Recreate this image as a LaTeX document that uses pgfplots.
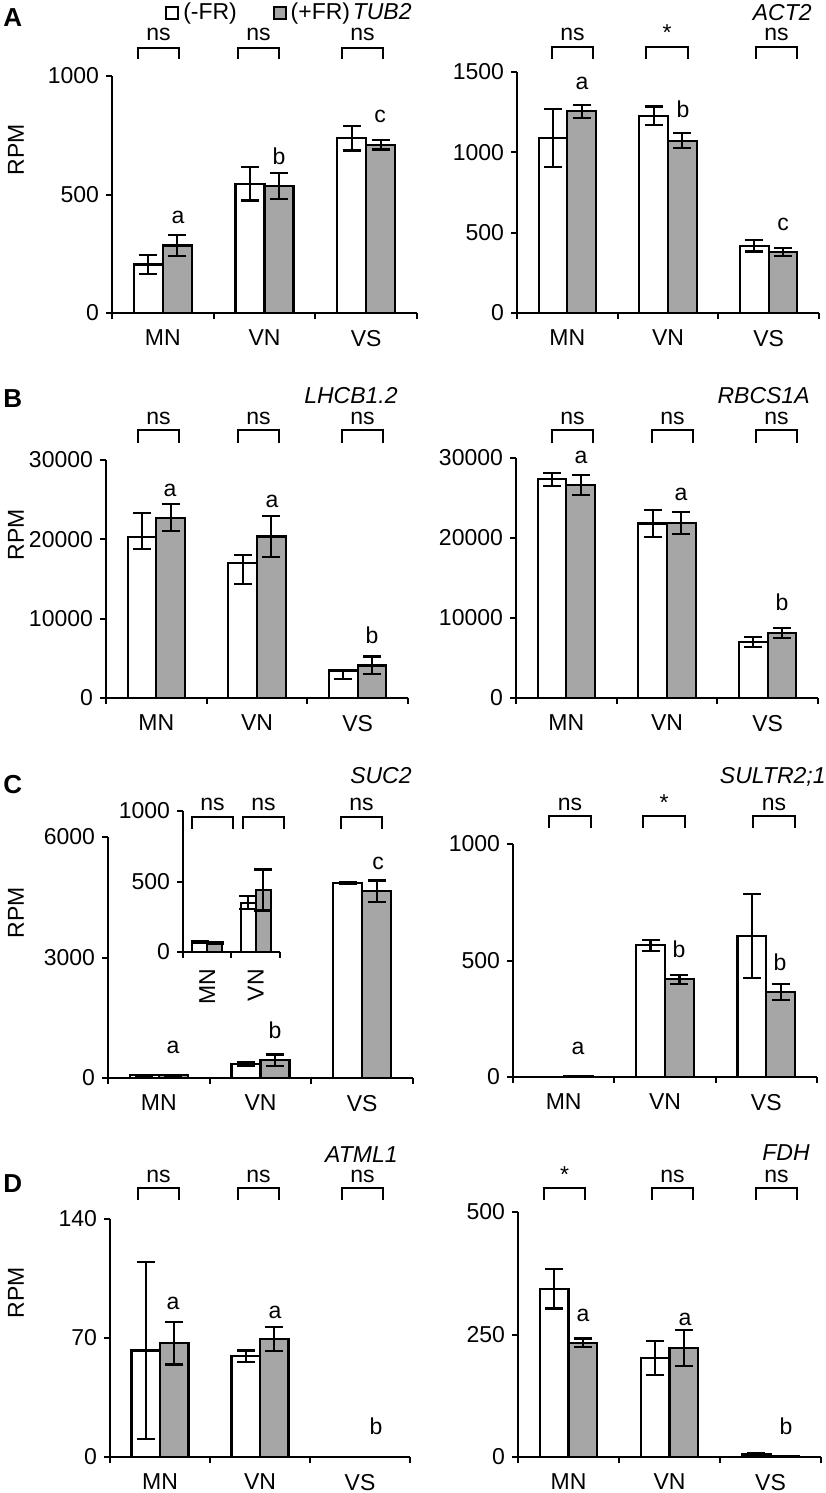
\documentclass[border=0pt]{standalone}
\usepackage{pgfplots}
\pgfplotsset{compat=1.18}
\usepackage{fontspec}
\setmainfont{Liberation Sans}
\definecolor{bargray}{RGB}{166,166,166}
\newcommand\f{\fontsize{11.5}{13}\selectfont}
\tikzset{
  wbar/.style={draw=black, fill=white, line width=1.1pt},
  gbar/.style={draw=black, fill=bargray, line width=1.1pt},
}
\pgfplotsset{
  panel/.style={
    ybar=0pt, bar width=0.285, scale only axis, anchor=south west,
    xmin=-0.5, xmax=2.5, ymin=0,
    enlargelimits=false, clip=false,
    axis x line*=bottom, axis y line*=left,
    xtick={-0.5,0.5,1.5,2.5}, xticklabels={},
    extra x ticks={0,1,2}, extra x tick labels={MN,VN,VS},
    extra x tick style={major tick length=0pt, xticklabel style={yshift=-5pt}},
    tick align=outside, major tick length=3pt,
    axis line style={line width=1pt, black},
    every tick/.style={line width=1pt, black},
    scaled y ticks=false,
    /pgf/number format/1000 sep={},
    /pgf/number format/assume math mode=true,
    ticklabel style={font=\f},
    error bars/y dir=both, error bars/y explicit,
    error bars/error bar style={line width=1.1pt, black},
    error bars/error mark options={rotate=90, line width=1.1pt, mark size=4.5pt, black},
  },
}
\newcommand\sig[6]{%
  \draw[line width=1.1pt] (#1,#4) -- (#1,#3) -- (#2,#3) -- (#2,#4);
  \node[anchor=base, inner sep=0pt] at ({(#1+#2)/2},#5) {\f #6};}
\newcommand\lab[3]{\node[anchor=base, inner sep=0pt] at (#1,#2) {\f #3};}
\newcommand\gene[3]{\node[anchor=base east, inner sep=0pt] at (#1,#2) {\f\itshape #3};}
\newcommand\pan[2]{\node[anchor=base west, inner sep=0pt] at (3,#1) {\fontsize{13}{15}\selectfont\bfseries #2};}
\newcommand\rpm[1]{\node[rotate=90, inner sep=0pt] at (16,#1) {\f RPM};}
\begin{document}
\begin{tikzpicture}
\useasboundingbox (0,0) rectangle (412.5pt,-746.5pt);
% ---------------- A left: TUB2
\begin{axis}[panel, at={(56pt,-156.5pt)}, width=152.5pt, height=118.5pt,
  ymax=1000, ytick={0,500,1000},
  legend columns=2,
  legend style={draw=none, fill=none, at={(0.174,1.266)}, anchor=west, inner sep=0pt,
    font=\f, /tikz/every even column/.append style={column sep=16pt}}]
\addplot[wbar, legend image code/.code={\draw[wbar, line width=0.9pt] (0pt,-3pt) rectangle (6pt,3pt);}]
  coordinates {(0,205) +- (0,40) (1,545) +- (0,70) (2,738) +- (0,52)};
\addplot[gbar, legend image code/.code={\draw[gbar, line width=0.9pt] (0pt,-3pt) rectangle (6pt,3pt);}]
  coordinates {(0,285) +- (0,45) (1,537) +- (0,55) (2,710) +- (0,20)};
\legend{(-FR),(+FR)}
\end{axis}
% ---------------- A right: ACT2
\begin{axis}[panel, at={(258.5pt,-156.5pt)}, width=151pt, height=120.5pt,
  ymax=1500, ytick={0,500,1000,1500}]
\addplot[wbar] coordinates {(0,1090) +- (0,180) (1,1228) +- (0,57) (2,418) +- (0,35)};
\addplot[gbar] coordinates {(0,1255) +- (0,40) (1,1073) +- (0,45) (2,378) +- (0,25)};
\end{axis}
% ---------------- B left: LHCB1.2
\begin{axis}[panel, at={(53pt,-349pt)}, width=151pt, height=119pt,
  ymax=30000, ytick={0,10000,20000,30000}]
\addplot[wbar] coordinates {(0,20270) += (0,3100) -= (0,1510) (1,16990) += (0,1050) -= (0,2640) (2,3480) += (0,0) -= (0,1090)};
\addplot[gbar] coordinates {(0,22740) += (0,1680) -= (0,1640) (1,20350) += (0,2600) -= (0,2600) (2,4110) += (0,1130) -= (0,1090)};
\end{axis}
% ---------------- B right: RBCS1A
\begin{axis}[panel, at={(258pt,-349pt)}, width=151pt, height=120pt,
  ymax=30000, ytick={0,10000,20000,30000}]
\addplot[wbar] coordinates {(0,27340) +- (0,790) (1,21810) +- (0,1700) (2,6980) +- (0,620)};
\addplot[gbar] coordinates {(0,26590) +- (0,1250) (1,21900) +- (0,1350) (2,8100) +- (0,620)};
\end{axis}
% ---------------- C left: SUC2
\begin{axis}[panel, at={(54pt,-539pt)}, width=152.5pt, height=120.5pt,
  ymax=6000, ytick={0,3000,6000}]
\addplot[wbar] coordinates {(0,70) +- (0,8) (1,350) +- (0,45) (2,4860) +- (0,25)};
\addplot[gbar] coordinates {(0,66) +- (0,5) (1,440) +- (0,145) (2,4650) +- (0,270)};
\end{axis}
% inset
\begin{axis}[panel, at={(91.5pt,-476pt)}, width=48.5pt, height=70.5pt,
  xmin=-0.5, xmax=1.5, bar width=0.31,
  xtick={-0.5,0.5,1.5},
  extra x ticks={0,1}, extra x tick labels={MN,VN},
  extra x tick style={major tick length=0pt, xticklabel style={rotate=90, anchor=east, yshift=0pt}},
  ymax=1000, ytick={0,500,1000}]
\addplot[wbar] coordinates {(0,70) +- (0,8) (1,350) +- (0,45)};
\addplot[gbar] coordinates {(0,66) +- (0,5) (1,440) +- (0,145)};
\end{axis}
% ---------------- C right: SULTR2;1
\begin{axis}[panel, at={(256.5pt,-538.5pt)}, width=152pt, height=116.5pt,
  ymax=1000, ytick={0,500,1000}]
\addplot[wbar] coordinates {(0,0) +- (0,0) (1,565) +- (0,23) (2,604) +- (0,180)};
\addplot[gbar] coordinates {(0,3) +- (0,1) (1,419) +- (0,20) (2,365) +- (0,34)};
\end{axis}
% ---------------- D left: ATML1
\begin{axis}[panel, at={(55pt,-728.5pt)}, width=150pt, height=119pt,
  ymax=140, ytick={0,70,140}]
\addplot[wbar] coordinates {(0,62.7) +- (0,52) (1,59.2) +- (0,3.5) (2,0) +- (0,0)};
\addplot[gbar] coordinates {(0,67) +- (0,12.6) (1,69.4) +- (0,7) (2,0) +- (0,0)};
\end{axis}
% ---------------- D right: FDH
\begin{axis}[panel, at={(259pt,-728.5pt)}, width=151.5pt, height=122.5pt,
  ymax=500, ytick={0,250,500}]
\addplot[wbar] coordinates {(0,343) +- (0,40) (1,202) +- (0,35) (2,5) +- (0,3)};
\addplot[gbar] coordinates {(0,233) +- (0,9) (1,222) +- (0,37) (2,1) +- (0,0)};
\end{axis}
% ---------------- annotations (pixel coordinates)
\begin{scope}[x=0.5pt, y=-0.5pt]
% A
\pan{27}{A} \rpm{150}
\gene{412}{20}{TUB2}
\sig{138}{179}{48}{59}{41}{ns} \sig{238}{279}{48}{59}{41}{ns} \sig{342}{383}{48}{59}{41}{ns}
\lab{178}{223}{a} \lab{279}{164}{b} \lab{380}{123}{c}
\gene{812}{21}{ACT2}
\sig{552}{593}{47}{59}{41}{ns} \sig{646}{688}{47}{59}{41}{*} \sig{756}{797}{47}{59}{41}{ns}
\lab{582}{90}{a} \lab{683}{118}{b} \lab{783}{230}{c}
% B
\pan{407}{B} \rpm{535}
\gene{398}{403}{LHCB1.2}
\sig{138}{179}{430}{443}{424}{ns} \sig{238}{279}{430}{443}{424}{ns} \sig{342}{383}{430}{443}{424}{ns}
\lab{170}{496}{a} \lab{272}{507}{a} \lab{372}{643}{b}
\gene{810}{403}{RBCS1A}
\sig{552}{593}{430}{443}{424}{ns} \sig{652}{693}{430}{443}{424}{ns} \sig{756}{797}{430}{443}{424}{ns}
\lab{581}{463}{a} \lab{681}{500}{a} \lab{782}{610}{b}
% C
\pan{793}{C} \rpm{913}
\gene{412}{783}{SUC2}
\sig{192}{233}{817}{829}{810}{ns} \sig{243}{284}{817}{829}{810}{ns} \sig{341}{382}{817}{829}{810}{ns}
\lab{173}{1053}{a} \lab{275}{1038}{b} \lab{378}{869}{c}
\gene{826}{783}{SULTR2;1}
\sig{549}{591}{816}{828}{810}{ns} \sig{643}{685}{816}{828}{810}{*} \sig{753}{795}{816}{828}{810}{ns}
\lab{578}{1054}{a} \lab{679}{957}{b} \lab{780}{970}{b}
% D
\pan{1192}{D} \rpm{1293}
\gene{398}{1162}{ATML1}
\sig{138}{179}{1188}{1200}{1182}{ns} \sig{238}{279}{1188}{1200}{1182}{ns} \sig{342}{383}{1188}{1200}{1182}{ns}
\lab{173}{1309}{a} \lab{275}{1318}{a} \lab{376}{1434}{b}
\gene{810}{1160}{FDH}
\sig{544}{585}{1188}{1200}{1182}{*} \sig{652}{693}{1188}{1200}{1182}{ns} \sig{756}{797}{1188}{1200}{1182}{ns}
\lab{583}{1321}{a} \lab{685}{1325}{a} \lab{786}{1434}{b}
\end{scope}
\end{tikzpicture}
\end{document}
